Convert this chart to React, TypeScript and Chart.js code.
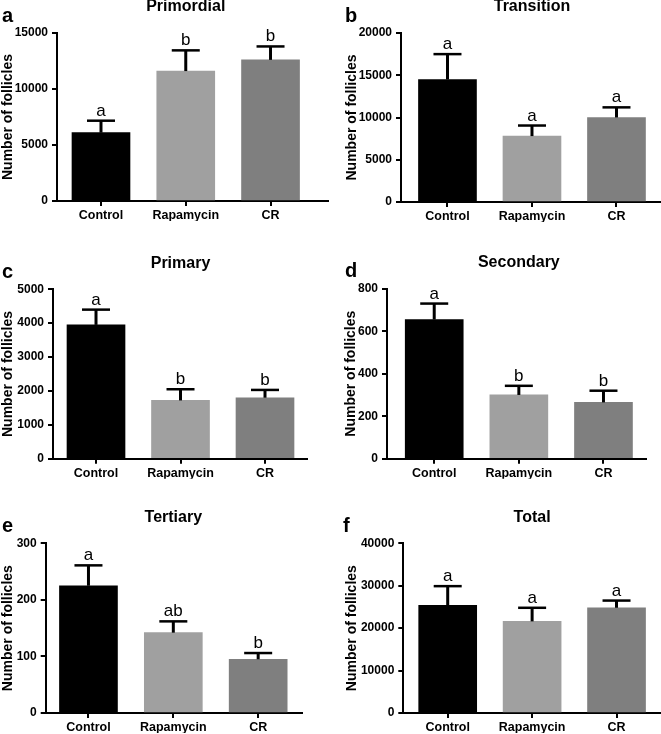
import React, { useEffect, useRef } from 'react';
import { Chart, registerables } from 'chart.js';

Chart.register(...registerables);

const FONT = '"Liberation Sans", Arial, Helvetica, sans-serif';

// ---------- data ----------
const CATEGORIES = ['Control', 'Rapamycin', 'CR'];
const BAR_COLORS = ['#000000', '#a0a0a0', '#7f7f7f'];
const Y_TITLE = 'Number of follicles';

const PRIMORDIAL_MEAN = [6100, 11600, 12600];
const PRIMORDIAL_SEM = [1070, 1850, 1200];
const PRIMORDIAL_LETTERS = ['a', 'b', 'b'];
const PRIMORDIAL_TICKS = [0, 5000, 10000, 15000];

const TRANSITION_MEAN = [14500, 7800, 10000];
const TRANSITION_SEM = [3000, 1250, 1200];
const TRANSITION_LETTERS = ['a', 'a', 'a'];
const TRANSITION_TICKS = [0, 5000, 10000, 15000, 20000];

const PRIMARY_MEAN = [3950, 1720, 1800];
const PRIMARY_SEM = [450, 330, 230];
const PRIMARY_LETTERS = ['a', 'b', 'b'];
const PRIMARY_TICKS = [0, 1000, 2000, 3000, 4000, 5000];

const SECONDARY_MEAN = [655, 300, 265];
const SECONDARY_SEM = [75, 43, 55];
const SECONDARY_LETTERS = ['a', 'b', 'b'];
const SECONDARY_TICKS = [0, 200, 400, 600, 800];

const TERTIARY_MEAN = [225, 142, 95];
const TERTIARY_SEM = [36, 20, 11];
const TERTIARY_LETTERS = ['a', 'ab', 'b'];
const TERTIARY_TICKS = [0, 100, 200, 300];

const TOTAL_MEAN = [25400, 21600, 24800];
const TOTAL_SEM = [4500, 3200, 1700];
const TOTAL_LETTERS = ['a', 'a', 'a'];
const TOTAL_TICKS = [0, 10000, 20000, 30000, 40000];

// ---------- layout (page coordinates) ----------
type Panel = {
  tag: string;
  title: string;
  mean: number[];
  sem: number[];
  letters: string[];
  ticks: number[];
  box: [number, number, number, number]; // left, top, width, height
  area: [number, number, number, number]; // axisX, top, right, bottom
  xRange: [number, number];
  titleCx: number; // y title centre (relative to canvas left)
  letterX: number;
};

const PANELS: Panel[] = [
  { tag: 'a', title: 'Primordial', mean: PRIMORDIAL_MEAN, sem: PRIMORDIAL_SEM, letters: PRIMORDIAL_LETTERS, ticks: PRIMORDIAL_TICKS,
    box: [0, 0, 330, 230], area: [57, 33, 328, 201], xRange: [0.481, 3.678], titleCx: 7.5, letterX: 2 },
  { tag: 'b', title: 'Transition', mean: TRANSITION_MEAN, sem: TRANSITION_SEM, letters: TRANSITION_LETTERS, ticks: TRANSITION_TICKS,
    box: [330, 0, 331, 230], area: [401, 33, 660, 202], xRange: [0.45, 3.515], titleCx: 22.5, letterX: 15 },
  { tag: 'c', title: 'Primary', mean: PRIMARY_MEAN, sem: PRIMARY_SEM, letters: PRIMARY_LETTERS, ticks: PRIMARY_TICKS,
    box: [0, 230, 330, 250], area: [53, 289.3, 307, 458.7], xRange: [0.491, 3.497], titleCx: 7.5, letterX: 2 },
  { tag: 'd', title: 'Secondary', mean: SECONDARY_MEAN, sem: SECONDARY_SEM, letters: SECONDARY_LETTERS, ticks: SECONDARY_TICKS,
    box: [330, 230, 331, 250], area: [387, 288.7, 645.7, 458.7], xRange: [0.442, 3.499], titleCx: 20.8, letterX: 15 },
  { tag: 'e', title: 'Tertiary', mean: TERTIARY_MEAN, sem: TERTIARY_SEM, letters: TERTIARY_LETTERS, ticks: TERTIARY_TICKS,
    box: [0, 480, 330, 254], area: [45.7, 543.3, 301.7, 713], xRange: [0.496, 3.513], titleCx: 6, letterX: 2 },
  { tag: 'f', title: 'Total', mean: TOTAL_MEAN, sem: TOTAL_SEM, letters: TOTAL_LETTERS, ticks: TOTAL_TICKS,
    box: [330, 480, 331, 254], area: [403.3, 543.3, 660, 713], xRange: [0.474, 3.515], titleCx: 22.5, letterX: 13 },
];

const X_AXIS_H = 20;
const Y_TITLE_SIZE = 14;

function PanelChart({ p }: { p: Panel }) {
  const ref = useRef<HTMLCanvasElement | null>(null);

  useEffect(() => {
    if (!ref.current) return;
    const [bl, bt, bw, bh] = p.box;
    const [ax, at, ar, ab] = p.area;
    const titleHalf = (Y_TITLE_SIZE * 1.2) / 2;
    const padL = Math.max(0, p.titleCx - titleHalf);
    const yW = ax - bl - padL;
    const padT = at - bt;
    const padR = bl + bw - ar;
    const padB = bt + bh - ab - X_AXIS_H;

    const annotate = {
      id: 'annotate_' + p.tag,
      afterDatasetsDraw(chart: any) {
        const { ctx, chartArea, scales } = chart;
        const meta = chart.getDatasetMeta(0);
        const y = scales.y;
        ctx.save();
        ctx.strokeStyle = '#000';
        ctx.fillStyle = '#000';
        meta.data.forEach((bar: any, i: number) => {
          const top = y.getPixelForValue(p.mean[i] + p.sem[i]);
          const x = bar.x;
          ctx.lineWidth = 3;
          ctx.beginPath();
          ctx.moveTo(x, bar.y);
          ctx.lineTo(x, top);
          ctx.stroke();
          ctx.lineWidth = 2.5;
          ctx.beginPath();
          ctx.moveTo(x - 14, top);
          ctx.lineTo(x + 14, top);
          ctx.stroke();
          ctx.font = `17px ${FONT}`;
          ctx.textAlign = 'center';
          ctx.textBaseline = 'alphabetic';
          ctx.fillText(p.letters[i], x, top - 5);
        });
        const n = meta.data.length;
        const cx = (meta.data[0].x + meta.data[n - 1].x) / 2;
        ctx.font = `bold 16px ${FONT}`;
        ctx.textAlign = 'center';
        ctx.textBaseline = 'middle';
        ctx.fillText(p.title, cx, chartArea.top - 26);
        ctx.font = `bold 20px ${FONT}`;
        ctx.textAlign = 'left';
        ctx.textBaseline = 'alphabetic';
        ctx.fillText(p.tag, p.letterX, chartArea.top - 11.5);
        ctx.restore();
      },
    };

    const chart = new Chart(ref.current, {
      type: 'bar',
      data: {
        datasets: [
          {
            data: p.mean.map((v, i) => ({ x: i + 1, y: v })),
            backgroundColor: BAR_COLORS,
            borderWidth: 0,
            barThickness: 58,
          } as any,
        ],
      },
      options: {
        animation: false,
        responsive: false,
        devicePixelRatio: 1,
        layout: { padding: { left: padL, right: padR, top: padT, bottom: padB } },
        plugins: {
          legend: { display: false },
          tooltip: { enabled: false },
          title: { display: false },
        },
        scales: {
          x: {
            type: 'linear',
            min: p.xRange[0],
            max: p.xRange[1],
            offset: false,
            grid: { display: true, drawOnChartArea: false, drawTicks: true, tickLength: 5, color: '#000', lineWidth: 2, offset: false },
            border: { display: true, color: '#000', width: 2 },
            ticks: {
              font: { family: FONT, size: 12.5, weight: 'bold' },
              color: '#000',
              padding: 2,
              maxRotation: 0,
              autoSkip: false,
              callback: (v: any) => CATEGORIES[Number(v) - 1] ?? '',
            },
            afterBuildTicks: (s: any) => {
              s.ticks = CATEGORIES.map((_, i) => ({ value: i + 1 }));
            },
            afterFit: (s: any) => {
              s.height = X_AXIS_H;
            },
          } as any,
          y: {
            type: 'linear',
            min: p.ticks[0],
            max: p.ticks[p.ticks.length - 1],
            grid: { display: true, drawOnChartArea: false, drawTicks: true, tickLength: 5, color: '#000', lineWidth: 2 },
            border: { display: true, color: '#000', width: 2 },
            ticks: {
              font: { family: FONT, size: 12, weight: 'bold' },
              color: '#000',
              padding: 4,
              callback: (v: any) => String(v),
            },
            afterBuildTicks: (s: any) => {
              s.ticks = p.ticks.map((v) => ({ value: v }));
            },
            title: {
              display: true,
              text: Y_TITLE,
              color: '#000',
              font: { family: FONT, size: Y_TITLE_SIZE, weight: 'bold' },
              padding: 0,
            },
            afterFit: (s: any) => {
              s.width = yW;
            },
          } as any,
        },
      },
      plugins: [annotate as any],
    });
    return () => chart.destroy();
  }, [p]);

  const [bl, bt, bw, bh] = p.box;
  return (
    <canvas
      ref={ref}
      width={bw}
      height={bh}
      style={{ position: 'absolute', left: bl, top: bt, width: bw, height: bh }}
    />
  );
}

export default function App() {
  return (
    <div style={{ position: 'absolute', left: 0, top: 0, width: 661, height: 734, background: '#fff', overflow: 'hidden' }}>
      {PANELS.map((p) => (
        <PanelChart key={p.tag} p={p} />
      ))}
    </div>
  );
}
